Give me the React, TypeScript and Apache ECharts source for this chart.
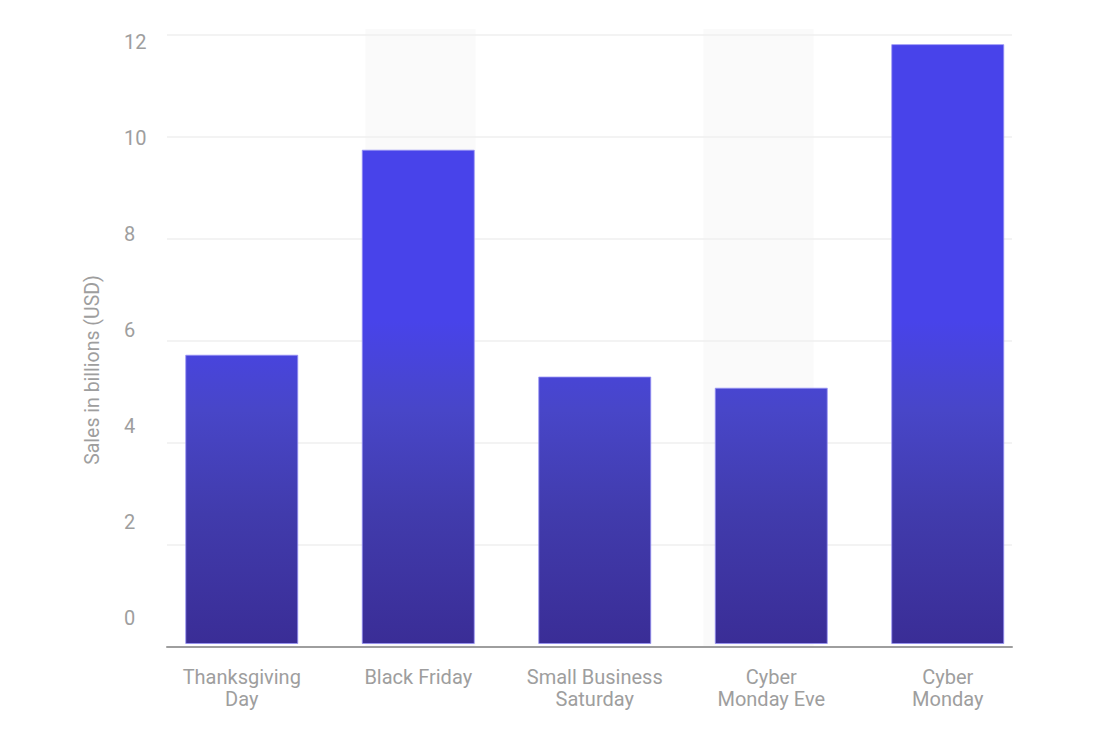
import React, { useEffect, useRef } from "react";
import * as echarts from "echarts";

const categories = ["Thanksgiving\nDay", "Black Friday", "Small Business\nSaturday", "Cyber\nMonday Eve", "Cyber\nMonday"];
const salesValues = [5.7, 9.74, 5.27, 5.05, 11.82];
const shadeValues = [null, 12.12, null, 12.12, null];
const tickLabels = [0, 2, 4, 6, 8, 10, 12];
const yAxisTitle = "Sales in billions (USD)";

export default function App() {
  const ref = useRef<HTMLDivElement>(null);
  useEffect(() => {
    if (!ref.current) return;
    const chart = echarts.init(ref.current, null, { renderer: "svg" });
    const textColor = "#9e9e9e";
    const font = "Roboto, 'Noto Sans', sans-serif";
    chart.setOption({
      animation: false,
      backgroundColor: "#ffffff",
      grid: [
        { left: 167, width: 845, top: 35, height: 612 },
        { left: 153.5, width: 882.5, top: 35, height: 609 },
        { left: 167, width: 845, top: 35, height: 612 },
        { left: 167, width: 845, top: 93, height: 554 },
      ],
      xAxis: [
        {
          gridIndex: 0, type: "category", data: categories,
          axisLine: { show: true, lineStyle: { color: "#9e9e9e", width: 2 } },
          axisTick: { show: false }, axisLabel: { show: false },
        },
        {
          gridIndex: 1, type: "category", data: categories,
          axisLine: { show: false }, axisTick: { show: false },
          axisLabel: {
            show: true, color: textColor, fontSize: 20, fontFamily: font,
            lineHeight: 22, margin: 22, interval: 0,
          },
        },
        { gridIndex: 2, type: "category", data: categories, show: false },
        { gridIndex: 3, type: "category", data: categories, show: false },
      ],
      yAxis: [
        {
          gridIndex: 0, type: "value", min: 0, max: 12, interval: 2,
          axisLine: { show: false }, axisTick: { show: false }, axisLabel: { show: false },
          splitLine: { show: true, lineStyle: { color: "#efefef", width: 1.5 } },
        },
        {
          gridIndex: 1, type: "value", min: 0, max: 12, interval: 2, show: false,
          splitLine: { show: false },
        },
        {
          gridIndex: 2, type: "value", min: -0.597, max: 12.14,
          axisLine: { show: false }, axisTick: { show: false },
          splitLine: { show: false },
          axisLabel: {
            show: true, customValues: tickLabels, color: textColor, fontSize: 20,
            fontFamily: font, align: "left", margin: 43,
          },
        },
        {
          gridIndex: 3, type: "value", min: 0, max: 10,
          axisLine: { show: false }, axisTick: { show: false },
          axisLabel: { show: false }, splitLine: { show: false },
          name: yAxisTitle, nameLocation: "middle", nameRotate: 90, nameGap: 65,
          nameTextStyle: { color: textColor, fontSize: 19.5, fontFamily: font },
        },
      ],
      series: [
        {
          type: "bar", xAxisIndex: 0, yAxisIndex: 0, data: shadeValues,
          barWidth: 110, clip: false, z: -1, silent: true,
          itemStyle: { color: "#fafafa" },
        },
        {
          type: "bar", xAxisIndex: 1, yAxisIndex: 1, data: salesValues,
          barWidth: 113,
          itemStyle: {
            color: new echarts.graphic.LinearGradient(0, 320, 0, 644, [
              { offset: 0, color: "#4843ea" },
              { offset: 0.28, color: "#4846c8" },
              { offset: 0.6, color: "#413bac" },
              { offset: 1, color: "#3a2d96" },
            ], true),
            borderColor: "rgba(150,145,245,0.8)",
            borderWidth: 1,
          },
        },
      ],
    });
    return () => chart.dispose();
  }, []);
  return (
    <div
      ref={ref}
      style={{ position: "absolute", left: 0, top: 0, width: 1114, height: 733 }}
    />
  );
}
